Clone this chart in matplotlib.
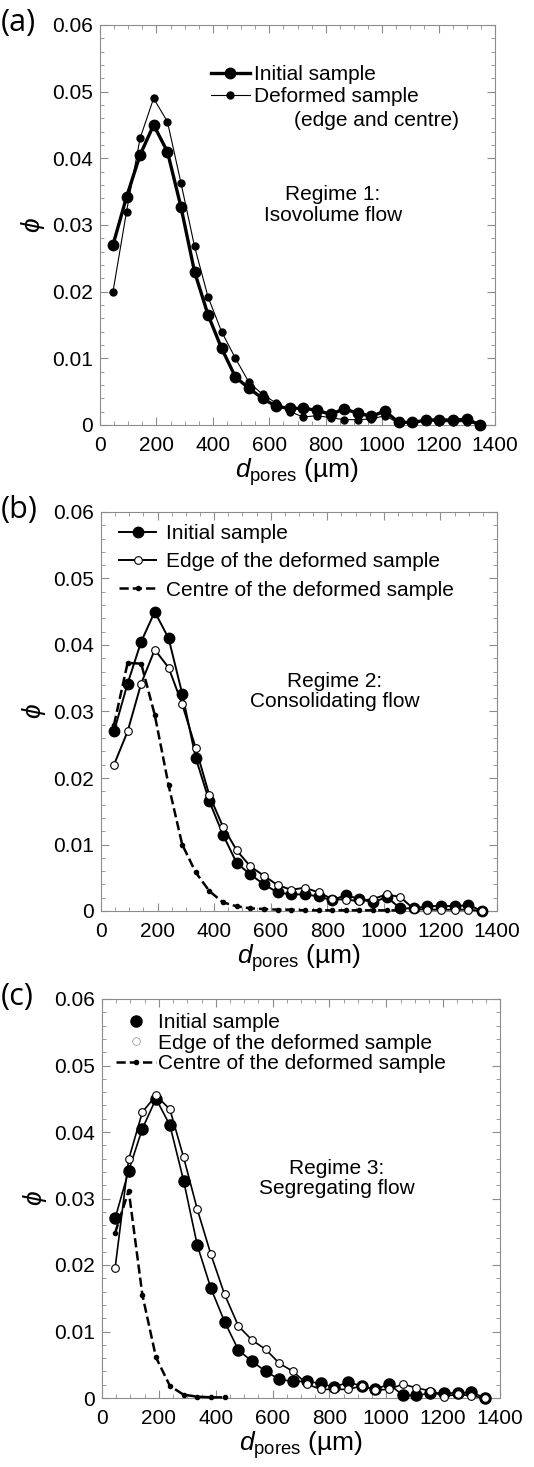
import matplotlib
matplotlib.use("Agg")
import matplotlib.pyplot as plt
from matplotlib.lines import Line2D
from matplotlib.ticker import MultipleLocator, FuncFormatter

plt.rcParams['font.family'] = ['Liberation Sans', 'DejaVu Sans']
plt.rcParams['mathtext.fontset'] = 'custom'
plt.rcParams['mathtext.rm'] = 'Liberation Sans'
plt.rcParams['mathtext.it'] = 'Liberation Sans:italic'
plt.rcParams['mathtext.fallback'] = 'stixsans'

# Pore diameter bins (um)
d_pores = [46, 94, 142, 190, 239, 287, 335, 383, 431, 480, 528, 576, 624, 672,
           721, 769, 817, 865, 913, 962, 1010, 1058, 1106, 1154, 1203, 1251, 1299, 1347]

# Initial sample (same in all panels)
initial = [0.0270, 0.0342, 0.0405, 0.0450, 0.0410, 0.0327, 0.0230, 0.0165, 0.0115, 0.0072,
           0.0055, 0.0040, 0.0028, 0.0025, 0.0025, 0.0022, 0.0016, 0.0024, 0.0018, 0.0013,
           0.0021, 0.0004, 0.0004, 0.0007, 0.0008, 0.0007, 0.0009, 0.0]

# (a) regime 1, deformed sample (edge and centre)
deformed_a = [0.0200, 0.0320, 0.0430, 0.0490, 0.0455, 0.0363, 0.0268, 0.0192, 0.0140, 0.0100,
              0.0064, 0.0046, 0.0033, 0.0020, 0.0012, 0.0014, 0.0011, 0.0008, 0.0008, 0.0009,
              0.0014, 0.0003, 0.0003, 0.0007, 0.0005, 0.0005, 0.0005, 0.0]

# (b) regime 2
edge_b = [0.0220, 0.0270, 0.0342, 0.0393, 0.0366, 0.0311, 0.0245, 0.0174, 0.0127, 0.0091,
          0.0067, 0.0053, 0.0039, 0.0032, 0.0035, 0.0028, 0.0018, 0.0017, 0.0015, 0.0018,
          0.0025, 0.0021, 0.0003, 0.0002, 0.0002, 0.0002, 0.0002, 0.0]
centre_b = [0.0280, 0.0373, 0.0372, 0.0295, 0.0189, 0.0100, 0.0058, 0.0030, 0.0013, 0.0007,
            0.0004, 0.0003, 0.0002, 0.0002, 0.0001, 0.0001, 0.0001, 0.0001, 0.0001, 0.0001,
            0.0001, 0.0001]

# (c) regime 3
edge_c = [0.0195, 0.0359, 0.0430, 0.0455, 0.0434, 0.0362, 0.0284, 0.0216, 0.0156, 0.0108,
          0.0087, 0.0073, 0.0052, 0.0040, 0.0021, 0.0013, 0.0013, 0.0013, 0.0018, 0.0012,
          0.0013, 0.0021, 0.0015, 0.0011, 0.0002, 0.0006, 0.0003, 0.0]
centre_c = [0.0248, 0.0312, 0.0155, 0.0061, 0.0018, 0.0005, 0.0002, 0.0001, 0.0001]

panel_labels = ['(a)', '(b)', '(c)']
regime_texts = ['Regime 1:\nIsovolume flow', 'Regime 2:\nConsolidating flow',
                'Regime 3:\nSegregating flow']

W, H = 534, 1467
fig = plt.figure(figsize=(W / 100, H / 100), dpi=100)

# axes boxes in pixels: left, top, right, bottom
boxes = [(100, 25, 495, 425), (101, 512, 497, 911), (102, 999, 500, 1398)]
axes = []
for (l, t, r, b) in boxes:
    ax = fig.add_axes([l / W, 1 - b / H, (r - l) / W, (b - t) / H])
    axes.append(ax)

grey = '#8c8c8c'
for ax, lab, txt, (l, t, r, b) in zip(axes, panel_labels, regime_texts, boxes):
    ax.set_xlim(0, 1400)
    ax.set_ylim(0, 0.06)
    ax.xaxis.set_major_locator(MultipleLocator(200))
    ax.xaxis.set_minor_locator(MultipleLocator(50))
    ax.yaxis.set_major_locator(MultipleLocator(0.01))
    ax.yaxis.set_minor_locator(MultipleLocator(0.002))
    ax.yaxis.set_major_formatter(FuncFormatter(lambda v, p: '0' if abs(v) < 1e-9 else f'{v:.2f}'))
    ax.tick_params(which='both', direction='in', top=True, right=True, colors=grey,
                   labelcolor='black', labelsize=15)
    ax.tick_params(which='major', length=6, width=0.8)
    ax.tick_params(which='minor', length=3, width=0.6)
    ax.tick_params(axis='y', pad=5)
    ax.tick_params(axis='x', pad=8)
    for s in ax.spines.values():
        s.set_color(grey)
        s.set_linewidth(0.8)
    ax.set_xlabel(r'$d_{\mathregular{pores}}$ (µm)', fontsize=19, labelpad=1)
    ax.set_ylabel(r'$\phi$', fontsize=19, labelpad=4)
    ax.text(0.59, 0.55, txt, transform=ax.transAxes, ha='center', va='center',
            fontsize=15, linespacing=1.1)
    fig.text(1 / W, 1 - (t - 2) / H, lab, fontsize=22, family='Open Sans', va='center', ha='left')

# (a)
ax = axes[0]
ax.plot(d_pores, deformed_a, '-', color='black', lw=0.8, marker='o', ms=5, clip_on=False, zorder=3)
ax.plot(d_pores, initial, '-', color='black', lw=2.4, marker='o', ms=7.5, clip_on=False, zorder=4)
h_a = [Line2D([], [], color='black', lw=2.4, marker='o', ms=7.5),
       Line2D([], [], color='black', lw=0.8, marker='o', ms=5)]
ax.legend(h_a, ['Initial sample', 'Deformed sample'], loc='upper left',
          bbox_to_anchor=(0.28, 0.9), frameon=False, fontsize=15, handlelength=1.9,
          handletextpad=0.2, labelspacing=0.15, borderpad=0, borderaxespad=0)
ax.text(0.49, 0.76, '(edge and centre)', transform=ax.transAxes, fontsize=15, va='center')

# (b)
ax = axes[1]
ax.plot(d_pores[:len(centre_b)], centre_b, '--', color='black', lw=1.8, marker='o', ms=3,
        clip_on=False, zorder=3)
ax.plot(d_pores, initial, '-', color='black', lw=1.4, marker='o', ms=7.5, clip_on=False, zorder=4)
ax.plot(d_pores, edge_b, '-', color='black', lw=1.4, marker='o', ms=5.5, mfc='white', mew=0.8,
        clip_on=False, zorder=5)
h_b = [Line2D([], [], color='black', lw=1.4, marker='o', ms=7.5),
       Line2D([], [], color='black', lw=1.4, marker='o', ms=5.5, mfc='white', mew=0.8),
       Line2D([], [], color='black', lw=1.8, ls='--', marker='o', ms=3)]
ax.legend(h_b, ['Initial sample', 'Edge of the deformed sample', 'Centre of the deformed sample'],
          loc='upper left', bbox_to_anchor=(0.045, 0.97), frameon=False, fontsize=15,
          handlelength=1.8, handletextpad=0.45, labelspacing=0.45, borderpad=0, borderaxespad=0)

# (c)
ax = axes[2]
ax.plot(d_pores[:len(centre_c)], centre_c, '--', color='black', lw=1.8, marker='o', ms=3,
        clip_on=False, zorder=3)
ax.plot(d_pores, initial, '-', color='black', lw=1.2, marker='o', ms=8, clip_on=False, zorder=4)
ax.plot(d_pores, edge_c, '-', color='black', lw=1.2, marker='o', ms=5.5, mfc='white', mew=0.8,
        clip_on=False, zorder=5)
h_c = [Line2D([], [], color='black', ls='none', marker='o', ms=8),
       Line2D([], [], color='black', ls='none', marker='o', ms=5.5, mfc='white', mew=0.5,
              mec=grey),
       Line2D([], [], color='black', lw=1.8, ls='--', marker='o', ms=3)]
ax.legend(h_c, ['Initial sample', 'Edge of the deformed sample', 'Centre of the deformed sample'],
          loc='upper left', bbox_to_anchor=(0.035, 0.965), frameon=False, fontsize=15,
          handlelength=1.9, handletextpad=0.1, labelspacing=0.08, borderpad=0, borderaxespad=0)

plt.savefig('out.png', dpi=100)
plt.close()
